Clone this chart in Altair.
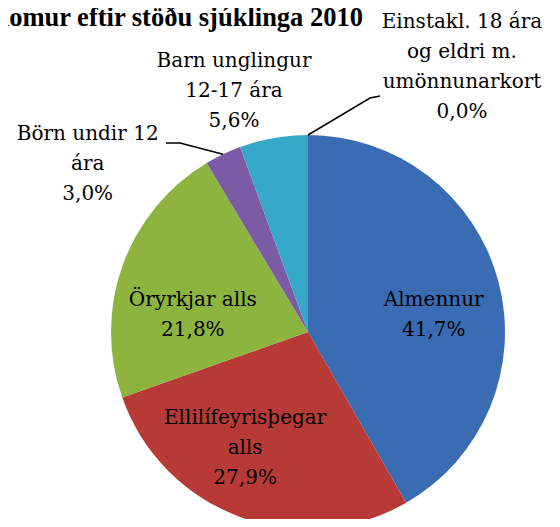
import math
import altair as alt
import pandas as pd

# ---- data ----
title_text = "Komur eftir stöðu sjúklinga 2010"
categories = [
    "Almennur",
    "Ellilífeyrisþegar alls",
    "Öryrkjar alls",
    "Börn undir 12 ára",
    "Barn unglingur 12-17 ára",
    "Einstakl. 18 ára og eldri m. umönnunarkort",
]
label_lines = [
    ["Almennur"],
    ["Ellilífeyrisþegar", "alls"],
    ["Öryrkjar alls"],
    ["Börn undir 12", "ára"],
    ["Barn unglingur", "12-17 ára"],
    ["Einstakl. 18 ára", "og eldri m.", "umönnunarkort"],
]
values = [41.7, 27.9, 21.8, 3.0, 5.6, 0.0]
colors = ["#3A6CB4", "#B83A36", "#8CB43E", "#7B5AA6", "#36A8C8", "#F79646"]


def pct(v):
    return f"{v:.1f}".replace(".", ",") + "%"


full_lines = [ls + [pct(v)] for ls, v in zip(label_lines, values)]
MAXL = max(len(l) for l in full_lines)
df = pd.DataFrame({
    "idx": list(range(len(categories))),
    "cat": categories,
    "value": values,
})
for k in range(MAXL):
    df[f"l{k}"] = [l[k] if k < len(l) else "" for l in full_lines]

# ---- layout ----
W, H = 400, 374
R = 197
TITLE_FONT = "Liberation Serif"
LABEL_FONT = "DejaVu Serif"
LH = 30
cx, cy = W / 2, H / 2

theta_scale = alt.Scale(domain=[0, 100])

arcs = alt.Chart(df).mark_arc(outerRadius=R).encode(
    theta=alt.Theta("value:Q", stack=True, scale=theta_scale),
    color=alt.Color("cat:N", scale=alt.Scale(domain=categories, range=colors), legend=None),
    order=alt.Order("idx:Q"),
)

lab_base = alt.Chart(df).transform_window(
    cum="sum(value)", sort=[alt.SortField("idx")], frame=[None, 0]
).transform_calculate(mid="datum.cum - datum.value / 2")

# label placement per slice: (radius, dx, dy of first line)
placement = {
    0: (127, 3, 1),
    1: (132, -17, -38),
    2: (116, -6, 7),
    3: (200, -134, -18),
    4: (240, -32, -35),
    5: (265, 154, -45),
}

label_layers = []
for i, (r, dx, dy) in placement.items():
    for k in range(len(full_lines[i])):
        label_layers.append(
            lab_base.transform_filter(alt.datum.idx == i).mark_text(
                radius=r, dx=dx, dy=dy + LH * k, font=LABEL_FONT, fontSize=20,
                align="center", baseline="middle", color="#000000",
            ).encode(
                theta=alt.Theta("mid:Q", stack=False, scale=theta_scale),
                text=f"l{k}:N",
            )
        )

# leader lines: from label to slice edge at mid-angle
mids = []
c = 0.0
for v in values:
    mids.append(c + v / 2)
    c += v


def edge(i):
    a = mids[i] / 100 * 2 * math.pi
    return cx + R * math.sin(a), cy - R * math.cos(a)


e3 = edge(3)
e5 = edge(5)
lead_df = pd.DataFrame({
    "g": ["b", "b", "b", "e", "e", "e"],
    "i": [0, 1, 2, 0, 1, 2],
    "x": [58, 72, e3[0], e5[0], 262, 272],
    "y": [-2, -2, e3[1], e5[1], -47, -49],
})
leaders = alt.Chart(lead_df).mark_line(color="#000000", strokeWidth=1.5).encode(
    x=alt.X("x:Q", scale=None, axis=None),
    y=alt.Y("y:Q", scale=None, axis=None),
    detail="g:N",
    order="i:Q",
)

title_df = pd.DataFrame({"t": [title_text]})
title = alt.Chart(title_df).mark_text(
    font=TITLE_FONT, fontSize=26.5, fontWeight="bold", align="right", baseline="alphabetic",
    color="#000000",
).encode(text="t:N", x=alt.value(255), y=alt.value(-119))

chart = alt.layer(arcs, *label_layers, leaders, title).properties(
    width=W,
    height=H,
    padding={"left": 100, "top": 137, "right": 44, "bottom": 0},
    autosize=alt.AutoSizeParams(type="none"),
).configure_view(strokeWidth=0)

chart.save("out.html", embed_options={"renderer": "svg", "actions": False})
